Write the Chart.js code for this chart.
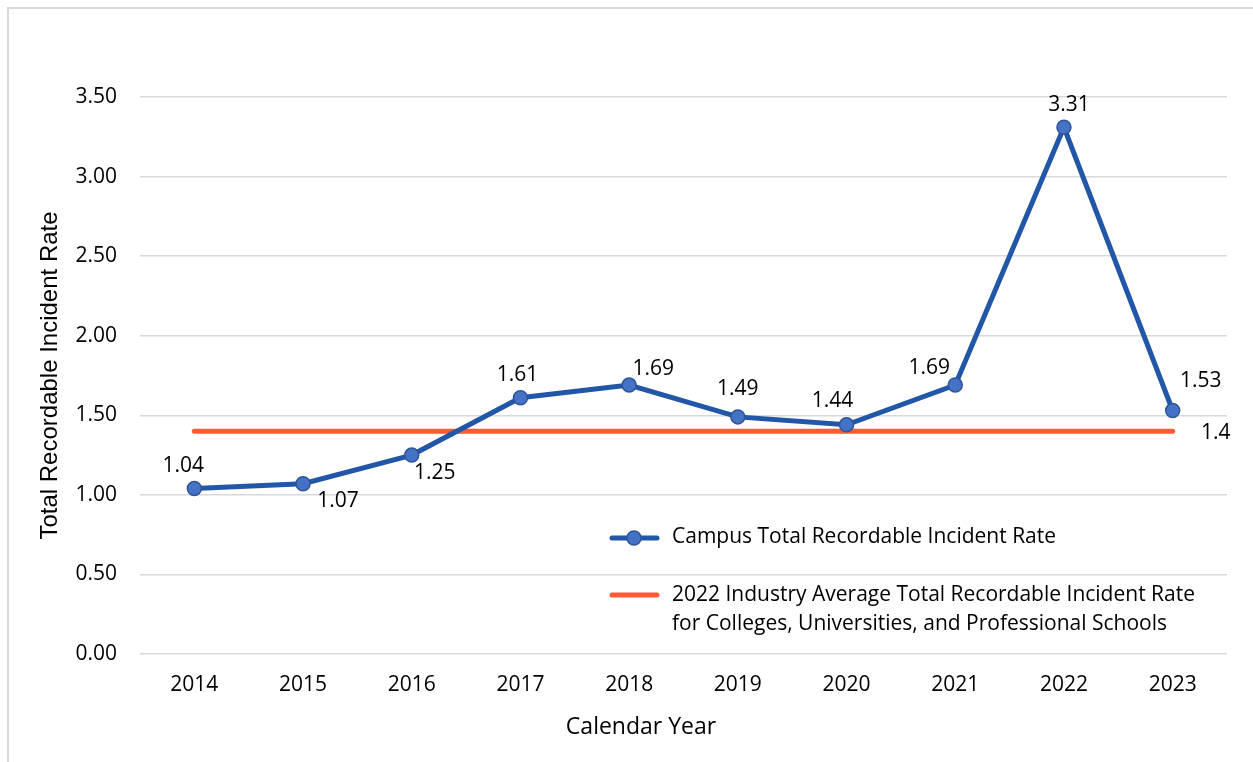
<!DOCTYPE html>
<html>
<head>
<meta charset="utf-8">
<script src="https://cdn.jsdelivr.net/npm/chart.js@4.4.0/dist/chart.umd.min.js"></script>
<style>
  body { margin: 0; background: #fff; }
  #frame { position: absolute; left: 7px; top: 7px; width: 1260px; height: 770px; border: 2px solid #d9d9d9; box-sizing: border-box; }
  #wrap { position: absolute; left: 0; top: 0; width: 1253px; height: 762px; }
</style>
</head>
<body>
<div id="frame"></div>
<div id="wrap"><canvas id="graph" width="1253" height="762"></canvas></div>
<script>
// chart data
var years = ['2014', '2015', '2016', '2017', '2018', '2019', '2020', '2021', '2022', '2023'];
var campusRate = [1.04, 1.07, 1.25, 1.61, 1.69, 1.49, 1.44, 1.69, 3.31, 1.53];
var industryRate = [1.4, 1.4, 1.4, 1.4, 1.4, 1.4, 1.4, 1.4, 1.4, 1.4];
var campusLabel = 'Campus Total Recordable Incident Rate';
var industryLabel = ['2022 Industry Average Total Recordable Incident Rate', 'for Colleges, Universities, and Professional Schools'];
var xTitle = 'Calendar Year';

// where each value label sits relative to its point
var labelOffsets = [[-11, -22], [35, 17], [23, 18], [-3, -23], [24, -16], [0, -28], [-14, -24], [-26, -17], [5, -22], [28, -29]];

const FONT = '"Open Sans", sans-serif';
const BLUE = '#2157a6';
const ORANGE = '#ff5a36';

const valueLabels = {
  id: 'valueLabels',
  afterDatasetsDraw(chart) {
    const ctx = chart.ctx;
    const meta = chart.getDatasetMeta(0);
    ctx.save();
    ctx.font = '21px ' + FONT;
    ctx.fillStyle = '#000';
    ctx.textAlign = 'center';
    ctx.textBaseline = 'middle';
    meta.data.forEach((pt, i) => {
      ctx.fillText(campusRate[i].toFixed(2), pt.x + labelOffsets[i][0], pt.y + labelOffsets[i][1]);
    });
    // industry value at the right end of its line
    const m2 = chart.getDatasetMeta(1);
    const last = m2.data[m2.data.length - 1];
    ctx.fillText(String(industryRate[industryRate.length - 1]), last.x + 43, last.y + 2);
    // x axis title, centred on the whole picture rather than the plot
    ctx.font = '23px ' + FONT;
    ctx.fillText(xTitle, 641, 727);
    ctx.restore();
  }
};

const insideLegend = {
  id: 'insideLegend',
  afterDatasetsDraw(chart) {
    const ctx = chart.ctx;
    const x0 = 612, x1 = 657, tx = 672;
    ctx.save();
    ctx.lineCap = 'round';
    ctx.lineWidth = 5;
    ctx.strokeStyle = BLUE;
    ctx.beginPath(); ctx.moveTo(x0, 538); ctx.lineTo(x1, 538); ctx.stroke();
    ctx.fillStyle = '#4472c4';
    ctx.lineWidth = 1.5;
    ctx.strokeStyle = '#2f5597';
    ctx.beginPath(); ctx.arc(634, 538, 7, 0, Math.PI * 2); ctx.fill(); ctx.stroke();
    ctx.lineWidth = 5;
    ctx.strokeStyle = ORANGE;
    ctx.beginPath(); ctx.moveTo(x0, 595); ctx.lineTo(x1, 595); ctx.stroke();
    ctx.font = '21px ' + FONT;
    ctx.fillStyle = '#000';
    ctx.textBaseline = 'middle';
    ctx.fillText(campusLabel, tx, 537);
    ctx.fillText(industryLabel[0], tx, 595);
    ctx.fillText(industryLabel[1], tx, 624);
    ctx.restore();
  }
};

new Chart('graph', {
  type: 'line',
  data: {
    labels: years,
    datasets: [{
      label: campusLabel,
      data: campusRate,
      borderColor: BLUE,
      borderWidth: 5,
      pointRadius: 7,
      pointBackgroundColor: '#4472c4',
      pointBorderColor: '#2f5597',
      pointBorderWidth: 1.5,
      tension: 0,
      order: 0
    }, {
      label: industryLabel.join(' '),
      data: industryRate,
      borderColor: ORANGE,
      borderWidth: 5,
      borderCapStyle: 'round',
      pointRadius: 0,
      tension: 0,
      order: 1
    }]
  },
  options: {
    responsive: false,
    animation: false,
    layout: { padding: { left: 0, top: 97, right: 26, bottom: 0 } },
    plugins: {
      legend: { display: false },
      tooltip: { enabled: false }
    },
    scales: {
      x: {
        offset: true,
        afterFit: s => { s.height = 108; },
        grid: { display: false, drawTicks: false },
        border: { display: false },
        ticks: { color: '#000', padding: 18, font: { family: FONT, size: 21 } },
        title: { display: false }
      },
      y: {
        min: 0,
        max: 3.5,
        afterFit: s => { s.width = 140; },
        grid: { color: '#d9d9d9', lineWidth: 1.5, drawTicks: false },
        border: { display: false },
        ticks: {
          stepSize: 0.5,
          color: '#000',
          padding: 23,
          font: { family: FONT, size: 21 },
          callback: v => Number(v).toFixed(2)
        },
        title: { display: true, text: 'Total Recordable Incident Rate', color: '#000', font: { family: '"Liberation Sans", Arial, sans-serif', size: 24 }, padding: { top: 36, bottom: 0 } }
      }
    }
  },
  plugins: [valueLabels, insideLegend]
});
</script>
</body>
</html>
